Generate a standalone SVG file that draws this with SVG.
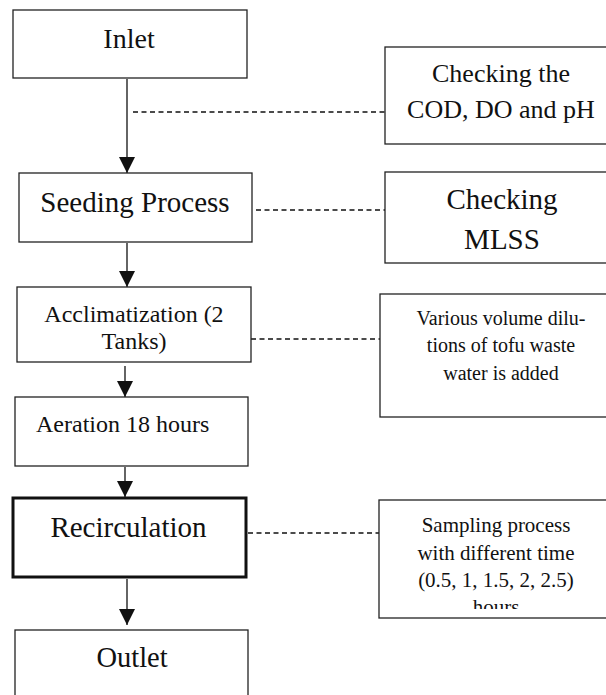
<svg xmlns="http://www.w3.org/2000/svg" width="606" height="695" viewBox="0 0 606 695">
<style>
.box{fill:#fff;stroke:#222;stroke-width:1.3}
.thick{fill:#fff;stroke:#111;stroke-width:3}
.t{font-family:"Liberation Serif","Times New Roman",serif;fill:#111;text-anchor:middle}
.arr{stroke:#111;stroke-width:1.3;fill:none}
.dash{stroke:#111;stroke-width:1.3;stroke-dasharray:5 3.5;fill:none}
</style>
<defs>
<marker id="ah" markerUnits="userSpaceOnUse" markerWidth="16" markerHeight="16" refX="16" refY="8" orient="auto">
<path d="M0,0 L16,8 L0,16 Z" fill="#111"/>
</marker>
<clipPath id="clipS"><rect x="379" y="500" width="240" height="109"/></clipPath>
</defs>
<rect width="606" height="695" fill="#fff"/>
<g id="connectors">
<line class="arr" x1="127" y1="79" x2="127" y2="173" marker-end="url(#ah)"/>
<line class="arr" x1="127" y1="243" x2="127" y2="287" marker-end="url(#ah)"/>
<line class="arr" x1="125" y1="366" x2="125" y2="397" marker-end="url(#ah)"/>
<line class="arr" x1="125" y1="467" x2="125" y2="497" marker-end="url(#ah)"/>
<line class="arr" x1="127" y1="579" x2="127" y2="625" marker-end="url(#ah)"/>
<line class="dash" x1="133" y1="112" x2="385" y2="112"/>
<line class="dash" x1="256" y1="210" x2="385" y2="210"/>
<line class="dash" x1="251" y1="339" x2="380" y2="339"/>
<line class="dash" x1="248" y1="533" x2="379" y2="533"/>
</g>
<g id="inlet">
<rect class="box" x="13" y="10" width="234" height="68"/>
<text class="t" x="129" y="48" font-size="28">Inlet</text>
</g>
<g id="seeding">
<rect class="box" x="19" y="173" width="233" height="69"/>
<text class="t" x="135" y="212" font-size="29">Seeding Process</text>
</g>
<g id="acclimatization">
<rect class="box" x="17" y="287" width="234" height="75"/>
<text class="t" x="134" y="322" font-size="24">Acclimatization (2</text>
<text class="t" x="134" y="349" font-size="24">Tanks)</text>
</g>
<g id="aeration">
<rect class="box" x="15" y="397" width="233" height="69"/>
<text class="t" x="36" y="432" font-size="24" style="text-anchor:start">Aeration 18 hours</text>
</g>
<g id="recirculation">
<rect class="thick" x="13" y="498" width="233" height="79"/>
<text class="t" x="128.5" y="537" font-size="29">Recirculation</text>
</g>
<g id="outlet">
<rect class="box" x="15" y="630" width="233" height="80"/>
<text class="t" x="132" y="667" font-size="28.5">Outlet</text>
</g>
<g id="check-cod">
<rect class="box" x="385" y="47" width="240" height="97"/>
<text class="t" x="501" y="82" font-size="26">Checking the</text>
<text class="t" x="501" y="118" font-size="26">COD, DO and pH</text>
</g>
<g id="check-mlss">
<rect class="box" x="385" y="172" width="240" height="91"/>
<text class="t" x="502" y="209" font-size="29">Checking</text>
<text class="t" x="502" y="249" font-size="29">MLSS</text>
</g>
<g id="dilutions">
<rect class="box" x="380" y="294" width="240" height="123"/>
<text class="t" x="501" y="325" font-size="20">Various volume dilu-</text>
<text class="t" x="501" y="352" font-size="20">tions of tofu waste</text>
<text class="t" x="501" y="380" font-size="20">water is added</text>
</g>
<g id="sampling">
<rect class="box" x="379" y="500" width="240" height="118"/>
<g clip-path="url(#clipS)">
<text class="t" x="496" y="532" font-size="21">Sampling process</text>
<text class="t" x="496" y="560" font-size="21">with different time</text>
<text class="t" x="496" y="587" font-size="21">(0.5, 1, 1.5, 2, 2.5)</text>
<text class="t" x="496" y="614" font-size="21">hours</text>
</g>
</g>
</svg>
